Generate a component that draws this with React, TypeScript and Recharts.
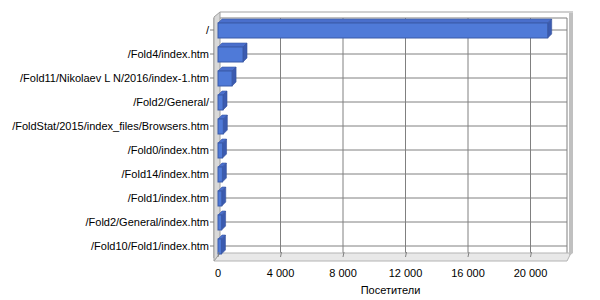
import { BarChart, Bar, XAxis, YAxis, CartesianGrid, usePlotArea } from 'recharts'

const pages = [
  '/',
  '/Fold4/index.htm',
  '/Fold11/Nikolaev L N/2016/index-1.htm',
  '/Fold2/General/',
  '/FoldStat/2015/index_files/Browsers.htm',
  '/Fold0/index.htm',
  '/Fold14/index.htm',
  '/Fold1/index.htm',
  '/Fold2/General/index.htm',
  '/Fold10/Fold1/index.htm',
]
const visitors = [21100, 1600, 900, 320, 340, 290, 280, 240, 230, 220]
const xTicks = [0, 4000, 8000, 12000, 16000, 20000]

const data = pages.map((p, i) => ({ page: p, v: visitors[i] }))

const FONT = '"Liberation Sans", Arial, sans-serif'
const D = 4 // bar depth

const fmt = (n: number) => String(n).replace(/\B(?=(\d{3})+(?!\d))/g, ' ')

function Bar3D(props: any) {
  const { x, y, width, height } = props
  if (!width || width <= 0) return null
  const w = width
  const h = height
  return (
    <g>
      <polygon
        points={`${x},${y} ${x + D},${y - D} ${x + w + D},${y - D} ${x + w},${y}`}
        fill="#4a6fcc"
        stroke="#3a5aa8"
        strokeWidth={0.6}
      />
      <polygon
        points={`${x + w},${y} ${x + w + D},${y - D} ${x + w + D},${y + h - D} ${x + w},${y + h}`}
        fill="#3b5bb0"
        stroke="#34509c"
        strokeWidth={0.6}
      />
      <rect x={x} y={y} width={w} height={h} fill="#4f7ad8" stroke="#3a5aa8" strokeWidth={1} />
    </g>
  )
}

function Walls() {
  const p = usePlotArea()
  if (!p) return null
  const x0 = p.x
  const y0 = p.y
  const x1 = p.x + p.width
  const y1 = p.y + p.height
  const top = y0 - 6
  const back = y1 - 5
  return (
    <g>
      {/* floor */}
      <polygon
        points={`${x0},${y1 + 3} ${x0 + 6},${back} ${x1 + 4},${back} ${x1},${y1 + 3}`}
        fill="#e8e8e8"
        stroke="#b4b4b4"
      />
      {/* right edge */}
      <polygon
        points={`${x1 + 2},${top} ${x1 + 6},${top} ${x1 + 6},${back} ${x1 + 2},${back + 3}`}
        fill="#c0c0c0"
      />
      {/* top edge */}
      <line x1={x0 + 6} y1={top} x2={x1 + 6} y2={top} stroke="#d0d0d0" strokeWidth={2} />
    </g>
  )
}

function LeftWall() {
  const p = usePlotArea()
  if (!p) return null
  const x0 = p.x
  const y0 = p.y
  const y1 = p.y + p.height
  return (
    <polygon
      points={`${x0},${y0 - 1} ${x0 + 6},${y0 - 6} ${x0 + 6},${y1 - 5} ${x0},${y1 + 3}`}
      fill="#d8d8d8"
      stroke="#a0a0a0"
    />
  )
}

function XTick(props: any) {
  const { x, y, payload } = props
  return (
    <g>
      <line x1={x + 1} y1={y - 16} x2={x} y2={y - 11} stroke="#808080" />
      <text x={x} y={y} dy={9} textAnchor="middle" fontSize={11} fontFamily={FONT} fill="#000">
        {fmt(payload.value)}
      </text>
    </g>
  )
}

function YTick(props: any) {
  const { x, y, payload } = props
  return (
    <text x={x} y={y} dy={4} textAnchor="end" fontSize={11} fontFamily={FONT} fill="#000">
      {payload.value}
    </text>
  )
}

export default function App() {
  return (
    <div style={{ position: 'absolute', left: 0, top: 0, width: 600, height: 300, background: '#fff' }}>
      <BarChart
        width={600}
        height={300}
        data={data}
        layout="vertical"
        margin={{ top: 18, right: 33, bottom: 0, left: 0 }}
        barSize={15}
      >
        <Walls />
        <g transform="translate(2,-3)">
          <CartesianGrid stroke="#808080" strokeWidth={1} />
        </g>
        <LeftWall />
        <XAxis
          type="number"
          domain={[-256, 22336]}
          ticks={xTicks}
          axisLine={false}
          tickLine={false}
          tickSize={8}
          tickMargin={2}
          height={42}
          tick={<XTick />}
          label={{
            value: 'Посетители',
            position: 'insideBottom',
            offset: 6,
            style: { fontSize: 11, fontFamily: FONT, fill: '#000' },
          }}
        />
        <YAxis
          type="category"
          dataKey="page"
          width={214}
          axisLine={false}
          tickLine={{ stroke: '#808080' }}
          tickSize={4}
          tickMargin={1}
          tick={<YTick />}
          interval={0}
        />
        <Bar dataKey="v" shape={<Bar3D />} isAnimationActive={false} />
      </BarChart>
    </div>
  )
}
